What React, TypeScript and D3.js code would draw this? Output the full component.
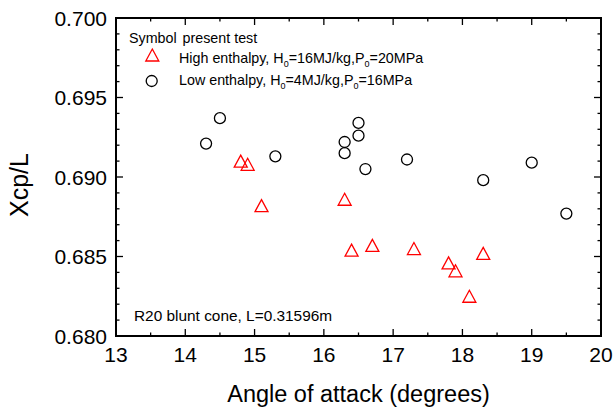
import React from "react";
import * as d3 from "d3";

const highX = [14.8, 14.9, 15.1, 16.3, 16.4, 16.7, 17.3, 17.8, 17.9, 18.1, 18.3];
const highY = [0.6910, 0.6908, 0.6882, 0.6886, 0.6854, 0.6857, 0.6855, 0.6846, 0.6841, 0.6825, 0.6852];
const lowX = [14.3, 14.5, 15.3, 16.3, 16.3, 16.5, 16.5, 16.6, 17.2, 18.3, 19.0, 19.5];
const lowY = [0.6921, 0.6937, 0.6913, 0.6922, 0.6915, 0.6934, 0.6926, 0.6905, 0.6911, 0.6898, 0.6909, 0.6877];
const xTicks = [13, 14, 15, 16, 17, 18, 19, 20];
const yTicks = [0.68, 0.685, 0.69, 0.695, 0.7];

const W = 613, H = 410;
const L = 116, R = 601, T = 18, B = 336;
const FONT = "'Liberation Sans', Arial, sans-serif";

export default function App() {
  const x = d3.scaleLinear().domain([13, 20]).range([L, R]);
  const y = d3.scaleLinear().domain([0.68, 0.7]).range([B, T]);
  const xMinor = d3.range(13, 20.001, 0.5);
  const yMinor = d3.range(0, 21).map((i) => 0.68 + i * 0.001);
  const tri = (cx: number, cy: number) =>
    `M${cx},${cy - 6}L${cx + 6.5},${cy + 6}L${cx - 6.5},${cy + 6}Z`;
  const isMajX = (v: number) => Math.abs(v - Math.round(v)) < 1e-6;
  const isMajY = (i: number) => i % 5 === 0;
  return (
    <svg width={W} height={H} style={{ position: "absolute", left: 0, top: 0 }} fontFamily={FONT}>
      <rect x={0} y={0} width={W} height={H} fill="#fff" />
      {/* ticks */}
      <g stroke="#000" strokeWidth={1.3}>
        {xMinor.map((v, i) => {
          const len = isMajX(v) ? 7 : 3.5;
          return (
            <g key={"xt" + i}>
              <line x1={x(v)} x2={x(v)} y1={B} y2={B - len} />
              <line x1={x(v)} x2={x(v)} y1={T} y2={T + len} />
            </g>
          );
        })}
        {yMinor.map((v, i) => {
          const len = isMajY(i) ? 7 : 3.5;
          return (
            <g key={"yt" + i}>
              <line x1={L} x2={L + len} y1={y(v)} y2={y(v)} />
              <line x1={R} x2={R - len} y1={y(v)} y2={y(v)} />
            </g>
          );
        })}
      </g>
      <rect x={L} y={T} width={R - L} height={B - T} fill="none" stroke="#000" strokeWidth={2} />
      {/* tick labels */}
      <g fontSize={21} fill="#000">
        {xTicks.map((v) => (
          <text key={"xl" + v} x={x(v)} y={362} textAnchor="middle">{v}</text>
        ))}
        {yTicks.map((v) => (
          <text key={"yl" + v} x={107} y={y(v)} textAnchor="end" dominantBaseline="central">{d3.format(".3f")(v)}</text>
        ))}
      </g>
      <text x={(L + R) / 2} y={402} textAnchor="middle" fontSize={23.5}>Angle of attack (degrees)</text>
      <text transform={`translate(28,185) rotate(-90)`} textAnchor="middle" fontSize={25}>Xcp/L</text>
      {/* data */}
      {lowX.map((v, i) => (
        <circle key={"c" + i} cx={x(v)} cy={y(lowY[i])} r={5.5} fill="none" stroke="#000" strokeWidth={1.3} />
      ))}
      {highX.map((v, i) => (
        <path key={"t" + i} d={tri(x(v), y(highY[i]))} fill="none" stroke="#ff0000" strokeWidth={1.3} />
      ))}
      {/* legend */}
      <g fontSize={14.3} fill="#000">
        <text x={129} y={43}>Symbol<tspan x={182.5}>present test</tspan></text>
        <path d={tri(152.3, 55)} fill="none" stroke="#ff0000" strokeWidth={1.3} />
        <text x={179} y={63}>
          High enthalpy, H<tspan fontSize={9} dy={4}>0</tspan><tspan dy={-4}>=16MJ/kg,P</tspan><tspan fontSize={9} dy={4}>0</tspan><tspan dy={-4}>=20MPa</tspan>
        </text>
        <circle cx={151.7} cy={81} r={5.5} fill="none" stroke="#000" strokeWidth={1.3} />
        <text x={179} y={85}>
          Low enthalpy, H<tspan fontSize={9} dy={4}>0</tspan><tspan dy={-4}>=4MJ/kg,P</tspan><tspan fontSize={9} dy={4}>0</tspan><tspan dy={-4}>=16MPa</tspan>
        </text>
      </g>
      <text x={134} y={321} fontSize={15.4}>R20 blunt cone, L=0.31596m</text>
    </svg>
  );
}
